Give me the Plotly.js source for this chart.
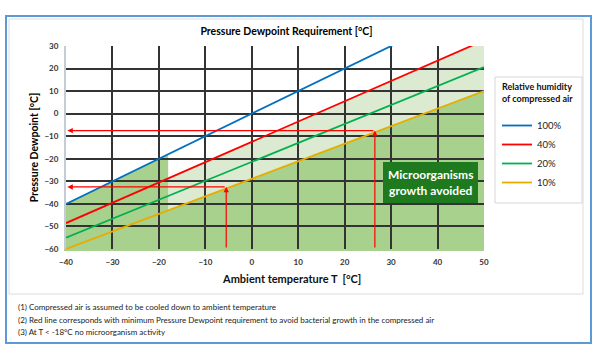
<!DOCTYPE html>
<html>
<head>
<meta charset="utf-8">
<script src="https://cdn.plot.ly/plotly-3.0.1.min.js"></script>
<style>
html,body{margin:0;padding:0;background:#fff;}
#chart{width:600px;height:350px;}
</style>
</head>
<body>
<div id="chart"></div>
<script>
// ---- data ----
const ambientT = [-40, 50];                 // x end points of each line (°C)
const rh100 = [-40, 50];                    // pressure dewpoint at 100 % RH
const rh40  = [-48.5, 32.5];                // 40 % RH
const rh20  = [-55, 20.7];                  // 20 % RH
const rh10  = [-60, 10];                    // 10 % RH
const seriesNames = ['100%', '40%', '20%', '10%'];
const seriesColors = ['#0070c0', '#ff0000', '#00b050', '#e6ad00'];
const noActivityT = -18;                    // below this no microorganism activity
const exampleT  = [26.5, -5.5];             // red arrow examples: ambient T
const exampleDP = [-7.5, -32.5];            //                     resulting dewpoint
const xTicks = [-40, -30, -20, -10, 0, 10, 20, 30, 40, 50];
const yTicks = [-60, -50, -40, -30, -20, -10, 0, 10, 20, 30];
const footnotes = [
  '(1) Compressed air is assumed to be cooled down to ambient temperature',
  '(2) Red line corresponds with minimum Pressure Dewpoint requirement to avoid bacterial growth in the compressed air',
  '(3) At T < -18°C no microorganism activity'
];

// ---- geometry helpers (plot area in pixels) ----
const L = 66, R = 484, T = 46, B = 249;
const px = x => (x - L) / (R - L);
const py = y => (B - y) / (B - T);
const yMin = yTicks[0], yMax = yTicks[yTicks.length - 1];
const xMin = xTicks[0], xMax = xTicks[xTicks.length - 1];
function at(series, x) {
  const f = (x - ambientT[0]) / (ambientT[1] - ambientT[0]);
  return series[0] + f * (series[1] - series[0]);
}
function path(pts) {
  return 'M ' + pts.map(p => p[0] + ',' + p[1]).join(' L ') + ' Z';
}

const FONT = 'Lato, "Open Sans", sans-serif';
const allSeries = [rh100, rh40, rh20, rh10];

const traces = allSeries.map((s, i) => ({
  type: 'scatter', mode: 'lines',
  x: ambientT, y: s, name: seriesNames[i],
  line: {color: seriesColors[i], width: 1.8},
  hoverinfo: 'skip'
}));

const darkFill = '#a9d18e', lightFill = '#dbead0';
const shapes = [
  // light band between 10 % and 40 % lines for T > -18
  {type: 'path', xref: 'x', yref: 'y', layer: 'below', line: {width: 0}, fillcolor: lightFill,
   path: path([[noActivityT, at(rh10, noActivityT)], [noActivityT, at(rh40, noActivityT)],
               [xMax, at(rh40, xMax)], [xMax, at(rh10, xMax)]])},
  // dark: below the 10 % line
  {type: 'path', xref: 'x', yref: 'y', layer: 'below', line: {width: 0}, fillcolor: darkFill,
   path: path([[xMin, yMin], [ambientT[0], rh10[0]], [ambientT[1], rh10[1]], [xMax, yMin]])},
  // dark: T < -18, below the 100 % line
  {type: 'path', xref: 'x', yref: 'y', layer: 'below', line: {width: 0}, fillcolor: darkFill,
   path: path([[xMin, yMin], [xMin, at(rh100, xMin)], [noActivityT, at(rh100, noActivityT)], [noActivityT, yMin]])},
  // outer frames
  {type: 'rect', xref: 'paper', yref: 'paper', x0: px(6), x1: px(591), y0: py(343), y1: py(16),
   line: {color: '#5b9bd5', width: 2}, fillcolor: 'rgba(0,0,0,0)', layer: 'above'},
  {type: 'rect', xref: 'paper', yref: 'paper', x0: px(9), x1: px(583), y0: py(294), y1: py(19),
   line: {color: '#dcdcdc', width: 1}, fillcolor: 'rgba(0,0,0,0)', layer: 'above'},
  // legend box
  {type: 'rect', xref: 'paper', yref: 'paper', x0: px(495), x1: px(582), y0: py(203), y1: py(77),
   line: {color: '#d6d6d6', width: 1}, fillcolor: 'rgba(0,0,0,0)', layer: 'above'}
];

const annotations = [];
footnotes.forEach((t, i) => annotations.push({
  xref: 'paper', yref: 'paper', x: px(16), y: py(307 + i * 12.5), xanchor: 'left', yanchor: 'middle',
  text: t.replace('<', '&lt;'), showarrow: false, font: {family: FONT, size: 8, color: '#222'}
}));
annotations.push({
  xref: 'paper', yref: 'paper', x: px(291), y: py(278), xanchor: 'center', yanchor: 'middle',
  text: 'Ambient temperature T  [°C]', showarrow: false,
  font: {family: FONT, size: 11, color: '#111', weight: 'bold'}
});
// legend heading
annotations.push({
  xref: 'paper', yref: 'paper', x: px(500), y: py(92.5), xanchor: 'left', yanchor: 'middle',
  text: 'Relative humidity<br>of compressed air', showarrow: false, align: 'left',
  font: {family: FONT, size: 9, color: '#111', weight: 'bold'}
});
annotations.push({
  xref: 'x', yref: 'y', x: 38.4, y: -30.3, xanchor: 'center', yanchor: 'middle',
  text: 'Microorganisms<br>growth avoided', showarrow: false, align: 'center',
  bgcolor: '#1f7a1f', bordercolor: '#1f7a1f', borderpad: 4,
  font: {family: FONT, size: 12, color: '#fff', weight: 'bold'}
});
exampleT.forEach((t, i) => {
  const dp = exampleDP[i];
  annotations.push({xref: 'x', yref: 'y', axref: 'x', ayref: 'y', x: t, y: dp, ax: t, ay: yMin,
    text: '', showarrow: true, arrowhead: 2, arrowsize: 0.9, arrowwidth: 1.2, arrowcolor: '#ff0000', standoff: 0});
  annotations.push({xref: 'x', yref: 'y', axref: 'x', ayref: 'y', x: xMin + 0.3, y: dp, ax: t, ay: dp,
    text: '', showarrow: true, arrowhead: 2, arrowsize: 0.9, arrowwidth: 1.2, arrowcolor: '#ff0000', standoff: 0});
});

const layout = {
  width: 600, height: 350,
  margin: {l: L, r: 600 - R, t: T, b: 350 - B, pad: 0},
  paper_bgcolor: '#ffffff', plot_bgcolor: '#ffffff',
  title: {text: 'Pressure Dewpoint Requirement [°C]', x: 286.5 / 600, xanchor: 'center',
          y: 1 - 31 / 350, yanchor: 'middle', yref: 'container',
          font: {family: FONT, size: 10.5, color: '#000', weight: 'bold'}},
  xaxis: {range: [xMin, xMax], tickvals: xTicks, showgrid: true, gridcolor: '#333', gridwidth: 2,
          zeroline: false, showline: true, linecolor: darkFill, linewidth: 2, mirror: false,
          ticks: 'outside', ticklen: 4, tickcolor: 'rgba(0,0,0,0)', fixedrange: true,
          tickfont: {family: FONT, size: 8, color: '#333', weight: 'bold'}},
  yaxis: {range: [yMin, yMax], tickvals: yTicks, showgrid: true, gridcolor: '#333', gridwidth: 2,
          zeroline: false, showline: true, linecolor: '#c4ccd8', linewidth: 2, mirror: false,
          ticks: 'outside', ticklen: 4, tickcolor: 'rgba(0,0,0,0)',
          fixedrange: true,
          tickfont: {family: FONT, size: 8, color: '#333', weight: 'bold'},
          title: {text: 'Pressure Dewpoint [°C]', standoff: 4,
                  font: {family: FONT, size: 10.5, color: '#000', weight: 'bold'}}},
  showlegend: true,
  legend: {x: px(497), y: py(111), xanchor: 'left', yanchor: 'top', xref: 'paper', yref: 'paper',
           bgcolor: 'rgba(0,0,0,0)', borderwidth: 0, itemwidth: 30, tracegroupgap: 0,
           font: {family: FONT, size: 9.5, color: '#222'}},
  shapes: shapes,
  annotations: annotations
};

Plotly.newPlot('chart', traces, layout, {displayModeBar: false, staticPlot: true});
</script>
</body>
</html>
